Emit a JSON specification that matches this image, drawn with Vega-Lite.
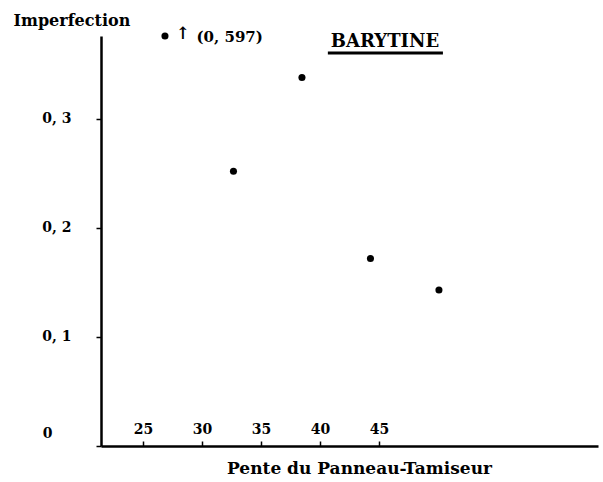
{
  "$schema": "https://vega.github.io/schema/vega-lite/v6.json",
  "width": 497,
  "height": 410,
  "padding": {"left": 101, "top": 36, "right": 5, "bottom": 36},
  "autosize": {"type": "none"},
  "background": "white",
  "config": {
    "view": {"stroke": null},
    "font": "DejaVu Serif",
    "axis": {"labelFont": "DejaVu Serif", "titleFont": "DejaVu Serif", "labelColor": "black", "titleColor": "black", "grid": false}
  },
  "datasets": {
    "points": [
      {"pente": 25, "imperfection": 0.376},
      {"pente": 30, "imperfection": 0.252},
      {"pente": 35, "imperfection": 0.338},
      {"pente": 40, "imperfection": 0.172},
      {"pente": 45, "imperfection": 0.143}
    ],
    "ticks": [
      {"tick": 25, "imperfection": 0},
      {"tick": 30, "imperfection": 0},
      {"tick": 35, "imperfection": 0},
      {"tick": 40, "imperfection": 0},
      {"tick": 45, "imperfection": 0}
    ],
    "arrow": [
      {"x": 26.3, "y": 0.3775, "text": "↑"}
    ],
    "notes": [
      {"x": 27.3, "y": 0.375, "text": "(0, 597)"}
    ],
    "label": [
      {"x": 41.06, "y": 0.3705, "x1": 36.89, "x2": 45.29, "yl": 0.3604, "text": "BARYTINE"}
    ]
  },
  "layer": [
    {
      "data": {"name": "ticks"},
      "mark": {"type": "point", "opacity": 0},
      "encoding": {
        "x": {
          "field": "tick", "type": "quantitative",
          "scale": {"domain": [21.44, 63.56], "nice": false, "zero": false},
          "axis": {
            "values": [25, 30, 35, 40, 45],
            "title": "Pente du Panneau-Tamiseur",
            "titleFontSize": 17, "titleFontWeight": "bold",
            "titleX": 258, "titleY": 27, "titleAnchor": "middle", "titleBaseline": "alphabetic",
            "domainColor": "black", "domainWidth": 2.5,
            "tickColor": "black", "tickSize": -5, "tickWidth": 1.5,
            "labelFontSize": 14, "labelFontWeight": "bold",
            "labelPadding": -8, "labelBaseline": "alphabetic",
            "labelFlush": false
          }
        },
        "y": {
          "field": "imperfection", "type": "quantitative",
          "scale": {"domain": [0, 0.376], "nice": false},
          "axis": {
            "values": [0, 0.1, 0.2, 0.3],
            "labelExpr": "datum.value == 0 ? '0' : replace(format(datum.value, '.1f'), '.', ', ')",
            "title": "Imperfection",
            "titleAngle": 0, "titleX": -88, "titleY": -11,
            "titleAlign": "left", "titleBaseline": "alphabetic",
            "titleFontSize": 16, "titleFontWeight": "bold",
            "domainColor": "black", "domainWidth": 2.5,
            "tickColor": "black", "tickSize": 5, "tickWidth": 1.5,
            "labelFontSize": 14, "labelFontWeight": "bold",
            "labelPadding": {"condition": {"test": "datum.value == 0", "value": 44}, "value": 25},
            "labelOffset": {"condition": {"test": "datum.value == 0", "value": -13}, "value": 0},
            "labelFlush": false
          }
        }
      }
    },
    {
      "data": {"name": "points"},
      "mark": {"type": "circle", "size": 50, "color": "black", "opacity": 1},
      "encoding": {
        "x": {"field": "pente", "type": "quantitative", "scale": {"domain": [20.33, 56.61], "nice": false, "zero": false}, "axis": null},
        "y": {"field": "imperfection", "type": "quantitative"}
      }
    },
    {
      "data": {"name": "arrow"},
      "mark": {"type": "text", "fontSize": 17, "fontWeight": "bold", "color": "black", "baseline": "middle", "align": "center"},
      "encoding": {
        "x": {"field": "x", "type": "quantitative", "scale": {"domain": [20.33, 56.61], "nice": false, "zero": false}, "axis": null},
        "y": {"field": "y", "type": "quantitative"},
        "text": {"field": "text"}
      }
    },
    {
      "data": {"name": "notes"},
      "mark": {"type": "text", "fontSize": 15, "fontWeight": "bold", "color": "black", "baseline": "middle", "align": "left"},
      "encoding": {
        "x": {"field": "x", "type": "quantitative", "scale": {"domain": [20.33, 56.61], "nice": false, "zero": false}, "axis": null},
        "y": {"field": "y", "type": "quantitative"},
        "text": {"field": "text"}
      }
    },
    {
      "data": {"name": "label"},
      "mark": {"type": "text", "fontSize": 18, "fontWeight": "bold", "color": "black", "baseline": "middle", "align": "center"},
      "encoding": {
        "x": {"field": "x", "type": "quantitative", "scale": {"domain": [20.33, 56.61], "nice": false, "zero": false}, "axis": null},
        "y": {"field": "y", "type": "quantitative"},
        "text": {"field": "text"}
      }
    },
    {
      "data": {"name": "label"},
      "mark": {"type": "rule", "color": "black", "strokeWidth": 3},
      "encoding": {
        "x": {"field": "x1", "type": "quantitative", "scale": {"domain": [20.33, 56.61], "nice": false, "zero": false}, "axis": null},
        "x2": {"field": "x2"},
        "y": {"field": "yl", "type": "quantitative"}
      }
    }
  ],
  "resolve": {"scale": {"x": "independent", "y": "shared"}}
}
